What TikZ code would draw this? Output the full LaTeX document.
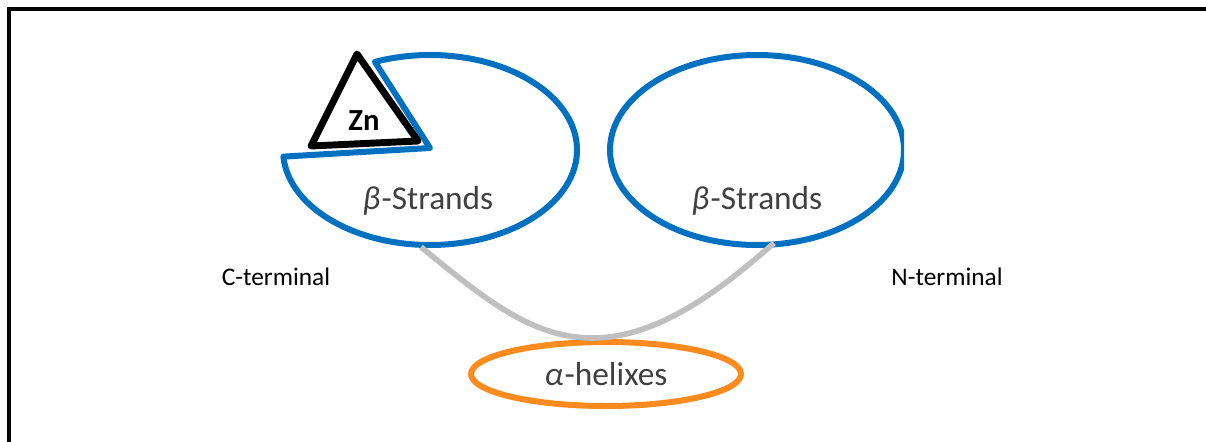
\documentclass[tikz,border=0pt]{standalone}
\usepackage{fontspec}
\setmainfont{Carlito}
\usetikzlibrary{shapes.geometric,calc}
\definecolor{oblue}{HTML}{0070C0}
\definecolor{oorange}{HTML}{FF8A1E}
\definecolor{lgray}{HTML}{BFBFBF}
\definecolor{tgray}{HTML}{404040}
\tikzset{
  blueline/.style={draw=oblue, line width=4.5pt},
  lbl/.style={text=tgray, font=\fontsize{25}{28}\selectfont, inner sep=0pt},
  term/.style={text=black, font=\fontsize{19}{22}\selectfont, inner sep=0pt},
}
\newcommand{\grk}[1]{{\itshape #1}\kern1pt}
\begin{document}
\begin{tikzpicture}[x=0.75pt,y=0.75pt]
\useasboundingbox (0,0) rectangle (1206,-442);
% frame
\draw[line width=2.3pt] (9,-442) -- (9,-9) -- (1206,-9);
% left beta ellipse with wedge
\coordinate (lc) at (430,-150);
\draw[blueline, line join=round] (430,-148) -- ($(lc)+(184:110.25pt and 71.25pt)$) arc[start angle=184, end angle=472, x radius=110.25pt, y radius=71.25pt] -- cycle;
% right beta ellipse (clipped at right)
\begin{scope}
\clip (600,-40) rectangle (904,-260);
\node[blueline, ellipse, minimum width=220.5pt, minimum height=142.5pt, inner sep=0pt] (rb) at (757,-150) {};
\end{scope}
% Zn triangle
\draw[line width=5.2pt, line join=round] (357,-54) -- (311,-146) -- (418,-141) -- cycle;
\node[font=\fontsize{23}{26}\selectfont\bfseries, inner sep=0pt] (zn) at (364,-121) {Zn};
% labels
\node[lbl] (lb) at (428,-201) {\grk{β}-Strands};
\node[lbl] (rl) at (757,-201) {\grk{β}-Strands};
\node[term] (ct) at (276,-277) {C-terminal};
\node[term] (nt) at (947,-277) {N-terminal};
% alpha helixes
\node[draw=oorange, line width=4.5pt, ellipse, minimum width=202.5pt, minimum height=48pt, inner sep=0pt, text=tgray, font=\fontsize{25}{28}\selectfont] (ah) at (606,-374) {\grk{α}-helixes};
% gray connector
\coordinate (gs) at (421,-247);
\coordinate (ge) at (774,-243);
\coordinate (gb) at (592,-338);
\draw[lgray, line width=4.2pt] (gs) .. controls (480,-295) and (530,-338) .. (gb) .. controls (655,-338) and (715,-295) .. (ge);
\end{tikzpicture}
\end{document}
